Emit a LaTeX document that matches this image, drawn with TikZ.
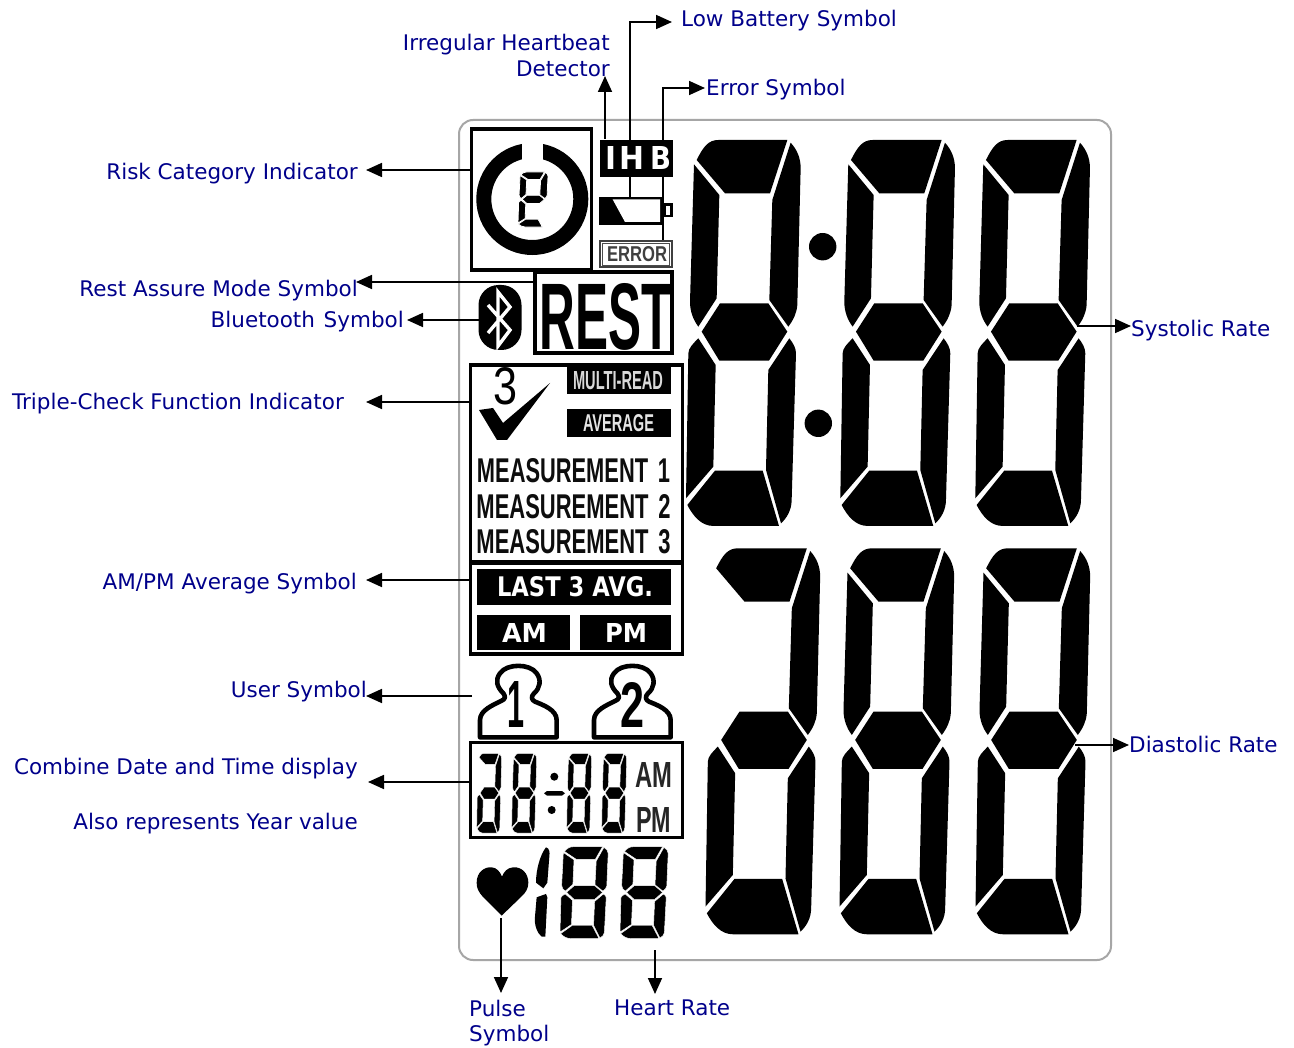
\documentclass[tikz,border=0pt]{standalone}
\usepackage{fontspec}
\usetikzlibrary{arrows.meta}
\setmainfont{DejaVu Sans}
\newfontfamily\lcdfont{Liberation Sans}
\definecolor{labelblue}{RGB}{0,0,139}
\newcommand{\fitbox}[3]{\resizebox{#1pt}{#2pt}{#3}}
\newcommand{\lcdT}{\path[seg] (50,90) .. controls (70,50) and (85,30) .. (115,30) -- (322,30) -- (270,190) -- (135,190) -- cycle;}
\newcommand{\lcdUR}{\path[seg] (332,38) .. controls (352,60) and (362,85) .. (362,115) -- (352,525) .. controls (350,550) and (340,570) .. (325,590) -- (268,510) -- (277,210) -- cycle;}
\newcommand{\lcdUL}{\path[seg] (42,103) -- (118,195) -- (110,505) -- (55,590) .. controls (40,570) and (30,545) .. (30,515) -- cycle;}
\newcommand{\lcdM}{\path[seg] (65,605) -- (120,520) -- (265,520) -- (322,605) -- (267,692) -- (118,692) -- cycle;}
\newcommand{\lcdLL}{\path[seg] (55,625) -- (107,705) -- (100,1010) -- (18,1105) -- (25,670) .. controls (25,655) and (40,640) .. (55,625) -- cycle;}
\newcommand{\lcdLR}{\path[seg] (328,625) -- (265,720) -- (258,1020) -- (303,1180) .. controls (320,1165) and (335,1140) .. (335,1110) -- (348,670) .. controls (348,655) and (340,640) .. (328,625) -- cycle;}
\newcommand{\lcdB}{\path[seg] (22,1125) -- (105,1022) -- (248,1022) -- (297,1188) -- (100,1188) .. controls (65,1188) and (40,1160) .. (22,1125) -- cycle;}
\newcommand{\lcdAll}{\lcdT\lcdUR\lcdUL\lcdM\lcdLL\lcdLR\lcdB}
\newcommand{\lcdNoUL}{\lcdT\lcdUR\lcdM\lcdLL\lcdLR\lcdB}
% left, top, xscale, yscale, segments
\newcommand{\lcddigit}[5]{\begin{scope}[shift={({#1-18*#3},{#2-30*#4})},xscale=#3,yscale=#4]#5\end{scope}}
\newcommand{\usericon}[1]{\begin{scope}[shift={(#1,660)},scale=.3333]
\draw[userline] (60,232) -- (60,180) .. controls (60,150) and (100,135) .. (125,122) .. controls (135,118) and (138,110) .. (130,100) .. controls (110,80) and (105,60) .. (120,40) .. controls (140,10) and (210,10) .. (230,40) .. controls (245,60) and (240,85) .. (222,100) .. controls (212,110) and (215,120) .. (225,125) .. controls (250,135) and (290,150) .. (290,180) -- (290,232) -- cycle;
\end{scope}}
\tikzset{
  x=1pt,y=-1pt,
  seg/.style={fill=black,draw=white,line width=0.45pt},
  bigseg/.style={seg/.style={fill=black}},
  smallseg/.style={seg/.style={fill=black,draw=white,line width=0.8pt}},
  conn/.style={draw=black,line width=1.7pt,-{Triangle[length=16pt,width=14pt]}},
  lbl/.style={text=labelblue,font=\fontsize{21.5}{25}\selectfont,inner sep=0pt},
  framebox/.style={draw=black,line width=3.4pt,inner sep=0pt,fill=white},
  blackbox/.style={fill=black,inner sep=0pt},
  lcdtext/.style={inner sep=0pt,font=\lcdfont\bfseries},
  widetext/.style={inner sep=0pt,font=\bfseries},
  userline/.style={draw=black,line width=4.6pt,line join=round},
}
\begin{document}
\begin{tikzpicture}
\useasboundingbox (0,0) rectangle (1294,1048);
\fill[white] (0,0) rectangle (1294,1048);
\draw[draw=black!35,line width=2pt,rounded corners=14pt] (459,120) rectangle (1111,960);

% big digits
\begin{scope}[bigseg]
\lcddigit{686}{140}{.3333}{.3333}{\lcdAll}
\lcddigit{840.3}{140}{.3333}{.3333}{\lcdAll}
\lcddigit{975.3}{140}{.3333}{.3333}{\lcdAll}
\lcddigit{705.5}{548.3}{.3333}{.3333}{\lcdNoUL}
\lcddigit{839.5}{548.3}{.3333}{.3333}{\lcdAll}
\lcddigit{975.5}{548.3}{.3333}{.3333}{\lcdAll}
\end{scope}
\fill (822.7,246.7) circle[radius=13.7];
\fill (818.3,423.3) circle[radius=13.7];

% risk box
\node[framebox,minimum width=120pt,minimum height=141pt] (riskbox) at (531.5,199.5) {};
\draw[line width=15pt] (532.3,199) circle[radius=48.5];
\fill[white] (521.7,136) rectangle (543.3,170);
\begin{scope}[smallseg]
\lcddigit{518}{172}{.0872}{.0475}{\lcdT\lcdUL\lcdUR\lcdM\lcdLL\lcdB}
\end{scope}

% IHB
\node[blackbox,minimum width=73pt,minimum height=37pt] (ihb) at (636.5,159) {};
% battery
\fill (599,197) rectangle (663,225);
\fill[white] (612.7,199.5) -- (660.2,199.5) -- (660.2,222) -- (625,222) -- cycle;
\draw[line width=2.6pt,fill=white] (665,204.5) rectangle (671.5,216);
% error
\node[draw=black!75,line width=1.6pt,minimum width=72pt,minimum height=26pt,inner sep=0pt] (errbox) at (636,254) {};
\draw[black!70,line width=.7pt] (602.5,243) rectangle (669.5,265);
\node[lcdtext,text=black!75] (errtext) at (637,254.5) {\fitbox{60}{15}{ERROR}};

% REST
\node[framebox,minimum width=137pt,minimum height=81pt] (restbox) at (603.5,312.5) {};
\node[lcdtext] (resttext) at (606,316.5) {\fitbox{132}{66}{REST}};

% bluetooth
\fill[rounded corners=20pt] (478.5,285) rectangle (521.5,350);
\draw[white,line width=3.4pt,line join=miter] (488,305) -- (510,330) -- (498,346) -- (498,292) -- (510,307) -- (488,333);

% triple box
\node[framebox,minimum width=212pt,minimum height=197pt] (triple) at (576.5,463.5) {};
\node[inner sep=0pt,font=\lcdfont] (three) at (505,386.5) {\fitbox{24}{37}{3}};
\fill (479,410) -- (493,408) -- (503,423) -- (550,383) -- (507,440) -- (497,440) -- cycle;
\node[blackbox,minimum width=104pt,minimum height=27pt] (multi) at (619,380.5) {};
\node[lcdtext,text=white!85!black] (multitext) at (618,381) {\fitbox{90}{18}{MULTI-READ}};
\node[blackbox,minimum width=104pt,minimum height=28pt] (avg) at (619,423) {};
\node[lcdtext,text=white!90!black] (avgtext) at (618.5,423.5) {\fitbox{71}{17}{AVERAGE}};
\node[lcdtext,text=black!95] (m1) at (573.5,471) {\fitbox{193}{24}{MEASUREMENT\ \,1}};
\node[lcdtext,text=black!95] (m2) at (573.5,506.5) {\fitbox{194}{24}{MEASUREMENT\ \,2}};
\node[lcdtext,text=black!95] (m3) at (573.5,542) {\fitbox{194}{24}{MEASUREMENT\ \,3}};

% am/pm box
\node[framebox,minimum width=212pt,minimum height=91pt] (ampm) at (576.5,608.5) {};
\node[blackbox,minimum width=194pt,minimum height=36pt] (last) at (574,587) {};
\node[widetext,text=white] (lasttext) at (575,587) {\fitbox{156}{20}{LAST\ 3\ AVG.}};
\node[blackbox,minimum width=93pt,minimum height=35pt] (am) at (523.5,632) {};
\node[widetext,text=white] (amtext) at (524.5,632.5) {\fitbox{45}{19}{AM}};
\node[blackbox,minimum width=91pt,minimum height=35pt] (pm) at (625.5,632) {};
\node[widetext,text=white] (pmtext) at (626,632.5) {\fitbox{42}{19}{PM}};

% users
\usericon{460}
\usericon{574}
\node[lcdtext] (u1) at (515.5,704) {\fitbox{17}{46}{1}};
\node[lcdtext] (u2) at (632,704.5) {\fitbox{24}{45}{2}};

% date box
\node[framebox,minimum width=212pt,minimum height=95pt] (datebox) at (576.5,790) {};
\lcddigit{476.7}{753.3}{.0727}{.069}{\lcdNoUL}
\lcddigit{511.7}{753.3}{.0727}{.069}{\lcdAll}
\lcddigit{566.7}{753.3}{.0727}{.069}{\lcdAll}
\lcddigit{601.7}{753.3}{.0727}{.069}{\lcdAll}
\fill (554.3,776.7) circle[radius=4];
\fill (551.7,810) circle[radius=4];
\fill (544,793.3) -- (547,791) -- (562,791) -- (565,793.3) -- (562,795.6) -- (547,795.6) -- cycle;
\node[lcdtext,text=black!85] (amsmall) at (653.5,774.5) {\fitbox{37}{25}{AM}};
\node[lcdtext,text=black!85] (pmsmall) at (653.5,820) {\fitbox{35}{25}{PM}};

% heart + rate
\begin{scope}[shift={(460,660)},scale=.3333]
\fill (125,767) -- (70,712) .. controls (55,695) and (50,685) .. (50,668) .. controls (50,635) and (75,620) .. (95,622) .. controls (110,623) and (120,635) .. (126,650) .. controls (132,635) and (142,623) .. (160,622) .. controls (185,620) and (205,640) .. (205,668) .. controls (205,685) and (198,698) .. (182,712) -- cycle;
\fill (258,562) .. controls (268,565) and (270,575) .. (268,590) -- (262,668) -- (250,685) -- (228,668) .. controls (228,630) and (240,585) .. (258,562) -- cycle;
\fill (230,712) -- (258,702) -- (262,712) -- (256,830) -- (245,830) .. controls (232,820) and (222,795) .. (225,770) -- cycle;
\end{scope}
\lcddigit{560}{846.7}{.14}{.0794}{\lcdAll}
\lcddigit{620}{846.7}{.14}{.0794}{\lcdAll}

% labels
\node[lbl,anchor=base west] (lLow) at (681,27) {Low Battery Symbol};
\node[lbl,anchor=base east] (lIrr1) at (610,51) {Irregular Heartbeat};
\node[lbl,anchor=base east] (lIrr2) at (610,77) {Detector};
\node[lbl,anchor=base west] (lErr) at (706,96) {Error Symbol};
\node[lbl,anchor=base east] (lRisk) at (358,180) {Risk Category Indicator};
\node[lbl,anchor=base east] (lRest) at (358,297) {Rest Assure Mode Symbol};
\node[lbl,anchor=base east] (lBlue) at (404,328) {Bluetooth\ \ \kern-5pt Symbol};
\node[lbl,anchor=base east] (lTri) at (344,410) {Triple-Check Function Indicator};
\node[lbl,anchor=base east] (lAvg) at (357,589) {AM/PM Average Symbol};
\node[lbl,anchor=base east] (lUser) at (367,697) {User Symbol};
\node[lbl,anchor=base east] (lComb) at (358,774) {Combine Date and Time display};
\node[lbl,anchor=base east] (lYear) at (358,829) {Also represents Year value};
\node[lbl,anchor=base west] (lPul1) at (469,1016) {Pulse};
\node[lbl,anchor=base west] (lPul2) at (469,1041) {Symbol};
\node[lbl,anchor=base west] (lHeart) at (614,1015) {Heart Rate};
\node[lbl,anchor=base west] (lSys) at (1131,337) {Systolic Rate};
\node[lbl,anchor=base west] (lDia) at (1129,752) {Diastolic Rate};

% connector ends
\coordinate (sIrr) at (605,139); \coordinate (tIrr) at (605,76);
\coordinate (sLow) at (630,198); \coordinate (cLow) at (630,22); \coordinate (tLow) at (672,22);
\coordinate (sErr) at (663,240); \coordinate (cErr) at (663,88); \coordinate (tErr) at (705,88);
\coordinate (sRisk) at (470,170); \coordinate (tRisk) at (366,170);
\coordinate (sRest) at (534,282); \coordinate (tRest) at (356,282);
\coordinate (sBlue) at (479,320); \coordinate (tBlue) at (407,320);
\coordinate (sTri) at (470,402); \coordinate (tTri) at (366,402);
\coordinate (sAvg) at (470,580); \coordinate (tAvg) at (366,580);
\coordinate (sUser) at (472,696); \coordinate (tUser) at (366,696);
\coordinate (sComb) at (470,782); \coordinate (tComb) at (368,782);
\coordinate (sPul) at (501,918); \coordinate (tPul) at (501,993);
\coordinate (sHeart) at (655,950); \coordinate (tHeart) at (655,994);
\coordinate (sSys) at (1077,326); \coordinate (tSys) at (1131,326);
\coordinate (sDia) at (1075,745); \coordinate (tDia) at (1129,745);

\draw[conn] (sIrr) -- (tIrr);
\draw[conn] (sLow) -- (cLow) -- (tLow);
\draw[conn] (sErr) -- (cErr) -- (tErr);
\draw[conn] (sRisk) -- (tRisk);
\draw[conn] (sRest) -- (tRest);
\draw[conn] (sBlue) -- (tBlue);
\draw[conn] (sTri) -- (tTri);
\draw[conn] (sAvg) -- (tAvg);
\draw[conn] (sUser) -- (tUser);
\draw[conn] (sComb) -- (tComb);
\draw[conn] (sPul) -- (tPul);
\draw[conn] (sHeart) -- (tHeart);
\draw[conn] (sSys) -- (tSys);
\draw[conn] (sDia) -- (tDia);

% IHB letters above the connectors that pass behind them
\node[widetext,text=white] (ihbI) at (610.8,158.5) {\fitbox{11}{23}{I}};
\node[widetext,text=white] (ihbH) at (632.3,158.5) {\fitbox{25}{23}{H}};
\node[widetext,text=white] (ihbB) at (660.8,158.5) {\fitbox{21}{23}{B}};
\end{tikzpicture}
\end{document}
